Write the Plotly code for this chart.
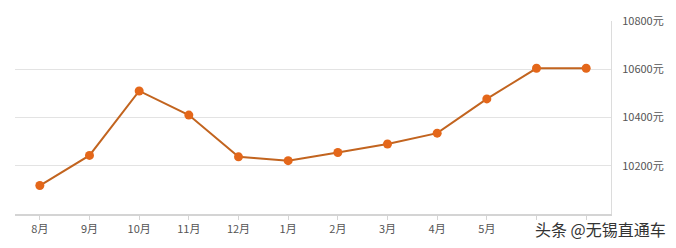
import plotly.graph_objects as go

months = ["8月", "9月", "10月", "11月", "12月", "1月", "2月", "3月", "4月", "5月", "6月", "7月"]
prices = [10118, 10243, 10510, 10410, 10237, 10221, 10255, 10290, 10335, 10477, 10604, 10604]
x_tick_labels = ["8月", "9月", "10月", "11月", "12月", "1月", "2月", "3月", "4月", "5月", "", ""]
y_ticks = [10200, 10400, 10600, 10800]
y_tick_labels = ["10200元", "10400元", "10600元", "10800元"]

fig = go.Figure()
fig.add_trace(go.Scatter(
    x=months, y=prices, mode="lines+markers",
    line=dict(color="#c2641f", width=2),
    marker=dict(color="#e4671a", size=9),
    cliponaxis=False,
))

fig.update_layout(
    width=676, height=248,
    margin=dict(l=15, r=62, t=16, b=32),
    paper_bgcolor="white", plot_bgcolor="white",
    showlegend=False,
    font=dict(family="Noto Sans CJK SC, Open Sans, sans-serif", size=11, color="#555"),
    xaxis=dict(
        type="category", range=[-0.5, 11.5],
        tickmode="array", tickvals=months, ticktext=x_tick_labels,
        showgrid=False, showline=True, linecolor="#d4d4d4", linewidth=2,
        ticks="outside", ticklen=4, tickcolor="#d4d4d4",
        tickfont=dict(size=11, color="#555"),
        fixedrange=True,
    ),
    yaxis=dict(
        side="right", range=[10000, 10800],
        tickmode="array", tickvals=y_ticks, ticktext=y_tick_labels,
        showgrid=True, gridcolor="#e3e3e3", gridwidth=1,
        showline=True, linecolor="#dcdcdc", linewidth=1,
        zeroline=False, ticks="", ticklabelstandoff=8,
        tickfont=dict(size=11, color="#555"),
        fixedrange=True,
    ),
)

fig.add_annotation(
    text="头条 @无锡直通车", xref="paper", yref="paper",
    x=1.0, xanchor="right", xshift=56, y=-0.08, yanchor="middle",
    showarrow=False, bgcolor="rgba(0,0,0,0)", borderpad=0,
    font=dict(size=16, color="#333", family="Noto Sans CJK SC"),
)

fig.write_html("out.html")
